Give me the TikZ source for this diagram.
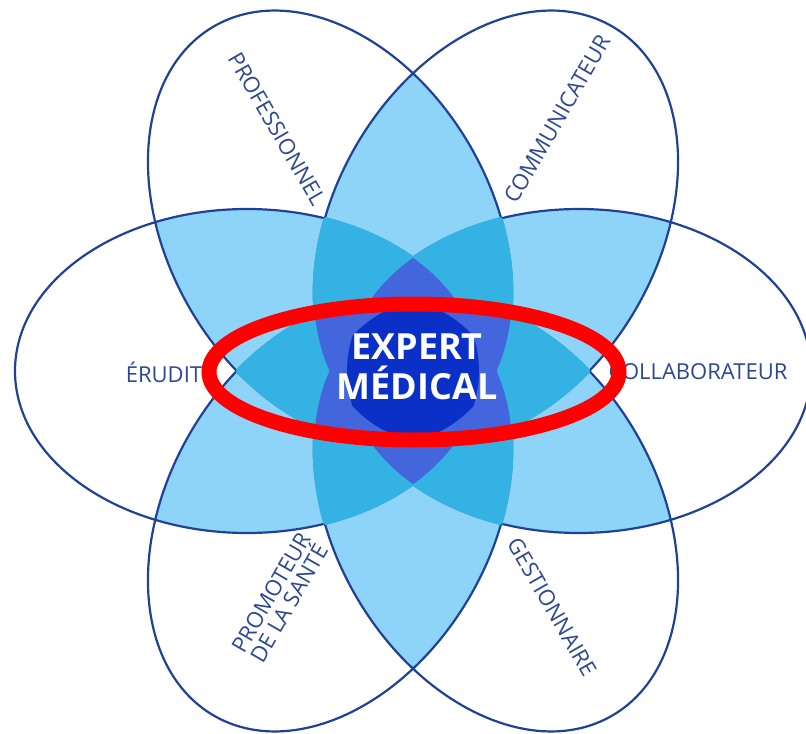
\documentclass[tikz,border=0pt]{standalone}
\usepackage{fontspec}
\setmainfont{Open Sans}
\definecolor{PetalLine}{RGB}{32, 66, 150}
\definecolor{RoleBlue}{RGB}{45, 72, 145}
\definecolor{SkyBlue}{RGB}{141, 212, 248}
\definecolor{MidBlue}{RGB}{52, 178, 228}
\definecolor{DeepBlue}{RGB}{68, 102, 221}
\definecolor{CoreBlue}{RGB}{10, 48, 200}
\definecolor{MarkRed}{RGB}{255, 0, 0}
\usetikzlibrary{positioning}

\def\petalpath{(166,0) ellipse [x radius=232, y radius=162]}

\begin{document}
\begin{tikzpicture}[x=0.5pt, y=0.5pt,
    petal/.style={rotate=60*#1},
    role/.style={font=\fontsize{11}{10.5}\selectfont, text=RoleBlue, inner sep=0pt},
    core/.style={font=\fontsize{18}{20}\bfseries\selectfont, text=white, align=center, inner sep=0pt}]
    \fill[white] (-413,-362) rectangle (393,371);
    \useasboundingbox (-413,-362) rectangle (393,371);

    % two petals overlap
    \foreach \i in {0,...,4}{
        \pgfmathtruncatemacro\jfirst{\i+1}
        \foreach \j in {\jfirst,...,5}{
            \begin{scope}
                \clip[petal=\i] \petalpath;
                \fill[SkyBlue, petal=\j] \petalpath;
            \end{scope}
        }
    }

    % petal outlines
    \foreach \i in {0,...,5}
        \draw[PetalLine, line width=1.1pt, petal=\i] \petalpath;

    % three petals overlap (stroke hides the inner outlines)
    \foreach \k in {0,...,5}{
        \foreach \i in {0,...,4}{
            \foreach \j in {1,...,5}{
                \ifnum\i<\j \ifnum\i=\k\else\ifnum\j=\k\else
                \begin{scope}
                    \clip[petal=\i] \petalpath;
                    \clip[petal=\j] \petalpath;
                    \filldraw[MidBlue, line width=1.4pt, petal=\k] \petalpath;
                \end{scope}
                \fi\fi\fi
            }
        }
    }

    % four and five petals
    \foreach \i/\j/\k in {0/1/2,0/1/3,0/1/4,0/2/3,0/2/4,0/3/4,1/2/3,1/2/4,1/3/4,2/3/4}{
        \foreach \l in {0,...,5}{
            \ifnum\l>\k
            \begin{scope}
                \clip[petal=\i] \petalpath;
                \clip[petal=\j] \petalpath;
                \clip[petal=\k] \petalpath;
                \fill[DeepBlue, petal=\l] \petalpath;
            \end{scope}
            \fi
        }
    }

    % all six
    \begin{scope}
        \foreach \i in {0,...,4}
            \clip[petal=\i] \petalpath;
        \fill[CoreBlue, petal=5] \petalpath;
    \end{scope}

    \node[role, rotate=-60] (prof) at (-136,242) {PROFESSIONNEL};
    \node[role, rotate=60] (comm) at (144,252) {COMMUNICATEUR};
    \node[role] (erudit) at (-249,-1) {ÉRUDIT};
    \node[role] (collab) at (285,-1) {COLLABORATEUR};
    \node[role, rotate=60, align=center] (promo) at (-133,-227) {PROMOTEUR\\DE LA SANTÉ};
    \node[role, rotate=-60] (gest) at (139,-236) {GESTIONNAIRE};
    \node[core] (expert) at (4,4) {EXPERT\\MÉDICAL};

    \draw[MarkRed, line width=7.5pt] (expert.center) ++(-3,-5) ellipse [x radius=205, y radius=68];
\end{tikzpicture}
\end{document}
